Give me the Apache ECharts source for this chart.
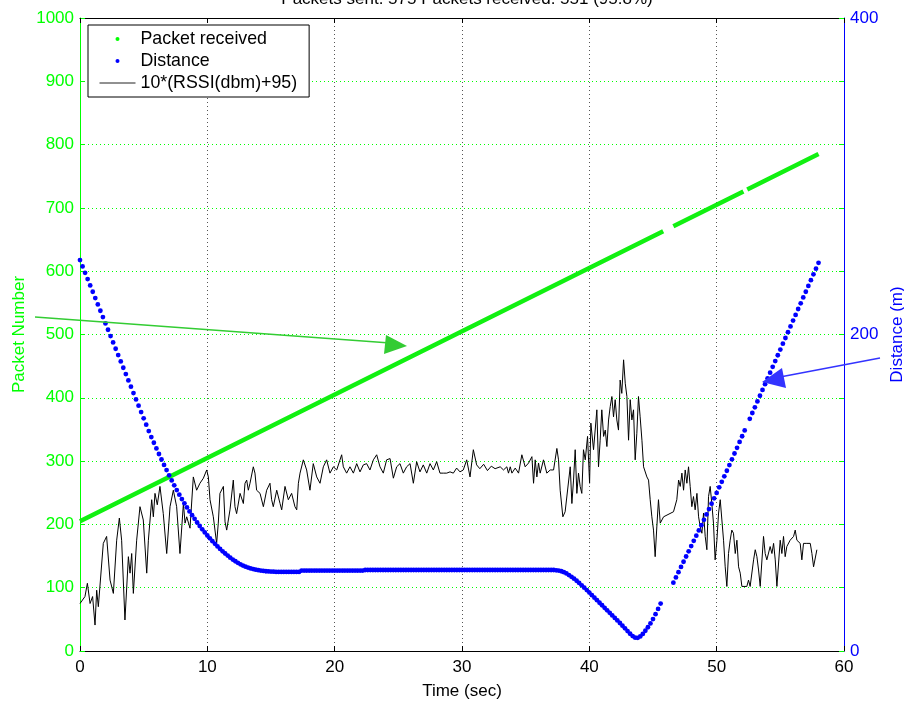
<!DOCTYPE html>
<html><head><meta charset="utf-8">
<script src="https://cdn.jsdelivr.net/npm/echarts@6/dist/echarts.min.js"></script>
<style>html,body{margin:0;padding:0;background:#fff}#c{width:904px;height:701px}</style>
</head><body><div id="c"></div>
<script>
// ---- data ----
var titleText = 'Packets sent: 575 Packets received: 551 (95.8%)';
var xTicks = [0, 10, 20, 30, 40, 50, 60];
var leftTicks = [0, 100, 200, 300, 400, 500, 600, 700, 800, 900, 1000];
var rightTicks = [0, 200, 400];

// Packet received: (time, packet number) break points of the received runs (null = missing packets)
var pktTime = [0, 45.8, null, 46.6, 52.1, null, 52.4, 58.0];
var pktNum  = [205, 663, null, 671, 726, null, 729, 785];

// Distance samples, every 0.2 s from t = 0
var distStart = 0, distStep = 0.2;
var distVal = [
 247,243,239,235,231,227,223,219,215,211,207,203,199,195,191,187,183,179,175,171,167,163,159,155,151,147,143,139,
 135.2,131.6,128,124.5,121,117.6,114.3,111,107.8,104.7,101.7,98.8,96,93.3,90.7,88.2,85.8,83.5,81.2,79,76.9,74.9,73,
 71.2,69.4,67.7,66.1,64.5,63,61.6,60.3,59,57.8,56.7,55.7,54.8,54,53.3,52.7,52.2,51.8,51.4,51.1,50.8,50.6,50.4,50.3,50.2,
 50.1,50,50,50,50,
 50,50,50,50,50,50,
 50.8,50.8,50.8,50.8,50.8,50.8,50.8,50.8,50.8,50.8,50.8,50.8,50.8,50.8,50.8,50.8,50.8,50.8,50.8,50.8,50.8,50.8,50.8,50.8,50.8,
 51.2,51.2,51.2,51.2,51.2,51.2,51.2,51.2,51.2,51.2,51.2,51.2,51.2,51.2,51.2,51.2,51.2,51.2,51.2,51.2,51.2,51.2,51.2,51.2,51.2,
 51.2,51.2,51.2,51.2,51.2,51.2,51.2,51.2,51.2,51.2,51.2,51.2,51.2,51.2,51.2,51.2,51.2,51.2,51.2,51.2,51.2,51.2,51.2,51.2,51.2,
 51.2,51.2,51.2,51.2,51.2,51.2,51.2,51.2,51.2,51.2,51.2,51.2,51.2,51.2,51.2,51.2,51.2,51.2,51.2,51.2,51.2,51.2,51.2,51.2,
 51.2,51.0,50.8,50.4,49.8,49.0,48.0,46.9,45.7,44.4,43.0,41.5,40.0,38.5,36.9,35.3,33.7,32.1,30.5,28.9,27.3,25.7,24.1,22.5,20.9,
 19.3,17.7,16.0,14.3,12.6,10.9,9.4,8.4,8.3,9.2,10.8,12.8,15.0,17.4,20.2,23.3,26.6,30.0,
 null,null,null,null,
 43.2,46.5,49.8,53.1,56.4,59.7,63.0,66.3,69.6,72.9,76.2,79.5,82.9,86.3,89.7,93.1,96.5,99.9,103.4,106.9,110.4,113.9,117.5,121.1,
 124.8,128.4,132.1,135.7,139.4,
 null,
 146.7,150.4,154.0,157.7,161.3,165.0,168.6,172.3,175.9,179.6,183.2,186.9,190.5,194.2,197.8,201.5,205.1,208.8,212.4,216.1,
 219.7,223.4,227.0,230.7,234.3,238.0,241.6,245.3
];

// 10*(RSSI+95) trace
var rssiT = [0,0.39,0.58,0.79,0.99,1.18,1.31,1.44,1.83,2.09,2.36,2.62,2.88,3.09,3.27,3.53,3.80,3.93,4.06,4.19,4.45,4.71,4.97,5.24,5.37,5.63,5.76,5.89,6.07,6.28,6.54,6.81,7.07,7.33,7.59,7.85,8.12,8.25,8.38,8.64,8.90,9.16,9.42,9.69,9.95,10.08,10.21,10.47,10.73,10.86,10.99,11.26,11.39,11.52,11.78,12.04,12.17,12.30,12.57,12.83,12.96,13.09,13.22,13.35,13.61,13.74,13.87,14.14,14.40,14.66,14.92,15.05,15.18,15.45,15.71,15.84,16.10,16.36,16.62,16.88,17.02,17.15,17.28,17.54,17.80,18.06,18.32,18.59,18.85,19.11,19.37,19.63,19.90,20.16,20.55,20.68,20.94,21.20,21.47,21.73,21.99,22.25,22.51,22.77,23.04,23.30,23.56,23.82,24.08,24.35,24.61,24.87,25.13,25.39,25.65,25.92,26.18,26.44,26.70,26.96,27.23,27.49,27.75,28.01,28.27,28.53,28.80,29.06,29.32,29.58,29.84,30.10,30.37,30.63,30.89,31.15,31.4,31.7,32.0,32.3,32.6,33.0,33.26,33.52,33.65,33.79,33.92,34.18,34.44,34.70,34.96,35.23,35.49,35.62,35.75,35.88,36.01,36.14,36.40,36.66,36.93,37.19,37.45,37.58,37.71,37.92,38.10,38.24,38.50,38.63,38.76,38.89,39.02,39.15,39.28,39.41,39.54,39.68,39.86,40.02,40.12,40.33,40.59,40.72,40.85,40.98,41.12,41.25,41.38,41.51,41.64,41.77,41.90,42.03,42.16,42.29,42.42,42.55,42.69,42.82,42.95,43.08,43.21,43.34,43.47,43.60,43.73,43.86,43.99,44.13,44.26,44.52,44.65,44.78,44.91,45.04,45.17,45.30,45.43,45.57,45.83,46.61,46.87,47.01,47.14,47.27,47.40,47.53,47.66,47.79,47.92,48.05,48.18,48.31,48.45,48.58,48.71,48.84,48.97,49.10,49.23,49.36,49.49,49.62,49.75,49.88,50.02,50.15,50.28,50.41,50.54,50.67,50.80,50.93,51.06,51.19,51.32,51.46,51.59,51.72,51.85,51.98,52.37,52.50,52.63,52.90,53.03,53.16,53.29,53.42,53.68,53.81,53.94,54.20,54.34,54.47,54.60,54.73,54.99,55.12,55.25,55.38,55.51,55.77,56.04,56.17,56.30,56.56,56.69,56.82,57.08,57.35,57.48,57.61,57.74,57.87];
var rssiV = [75,86,107,75,86,41,96,70,170,181,112,91,175,210,175,49,149,123,154,91,175,228,207,123,175,239,212,249,231,260,217,154,228,254,228,154,233,202,212,194,275,254,265,273,286,275,239,212,170,202,249,260,204,191,223,270,228,217,249,233,265,270,254,265,291,281,254,249,228,254,265,239,228,254,233,223,260,239,249,228,223,265,281,302,286,254,296,275,265,291,302,281,291,286,310,291,281,291,281,296,283,294,296,286,302,310,291,281,302,304,273,291,296,281,291,296,265,299,283,294,281,296,286,299,281,281,281,283,281,289,283,286,302,275,318,294,288,295,285,292,288,291,286,291,281,291,281,289,281,310,291,297,307,265,302,275,297,281,302,281,286,286,320,302,254,212,220,223,291,233,270,318,249,281,260,249,318,302,339,265,360,318,381,291,333,381,339,349,323,365,386,402,370,397,365,349,428,407,460,423,402,333,397,365,381,302,344,402,370,333,291,275,270,239,212,191,149,196,239,202,212,220,239,270,260,281,254,286,265,291,260,228,244,223,249,212,196,186,218,181,160,244,260,233,202,144,175,218,239,207,175,133,102,154,175,191,186,154,175,133,123,102,102,112,102,144,160,149,128,102,181,154,144,165,154,170,144,102,175,154,181,149,165,175,181,191,175,170,144,170,170,170,154,133,133,160];

// ---- build series data from the arrays ----
function pairs(xs, ys) {
  var out = [];
  for (var i = 0; i < xs.length; i++) out.push(xs[i] === null || ys[i] === null ? null : [xs[i], ys[i]]);
  return out;
}
var distData = [];
for (var i = 0; i < distVal.length; i++) {
  if (distVal[i] !== null) distData.push([+(distStart + i * distStep).toFixed(2), distVal[i]]);
}

var FONT = 'Liberation Sans, Arial, Helvetica, sans-serif';
var GREEN = '#00ff00', BLUE = '#0000ff';
var FS = 17;

var chart = echarts.init(document.getElementById('c'), null, {renderer: 'canvas'});
chart.setOption({
  backgroundColor: '#ffffff',
  animation: false,
  title: {
    text: titleText, left: 462, top: -14, textAlign: 'center',
    textStyle: {fontFamily: FONT, fontSize: FS, fontWeight: 'normal', color: '#000'}
  },
  grid: {left: 80, right: 60, top: 18, bottom: 50, containLabel: false, outerBoundsMode: 'none'},
  legend: {
    left: 88, top: 25, orient: 'vertical', selectedMode: false,
    backgroundColor: '#ffffff', borderColor: '#000', borderWidth: 1,
    padding: [4, 12, 4, 11], itemGap: 2, itemWidth: 36, itemHeight: 4,
    textStyle: {fontFamily: FONT, fontSize: 17.8, lineHeight: 20, color: '#000'},
    data: [
      {name: 'Packet received', icon: 'circle', itemStyle: {color: GREEN, borderWidth: 0}},
      {name: 'Distance', icon: 'circle', itemStyle: {color: BLUE, borderWidth: 0}},
      {name: '10*(RSSI(dbm)+95)', itemStyle: {opacity: 0}, lineStyle: {color: '#222', width: 1}}
    ]
  },
  xAxis: [{
    type: 'value', min: 0, max: 60, interval: 10, position: 'bottom',
    name: 'Time (sec)', nameLocation: 'middle', nameGap: 32,
    nameTextStyle: {fontFamily: FONT, fontSize: FS, color: '#000'},
    axisLine: {onZero: false, lineStyle: {color: '#000', width: 1}},
    axisTick: {inside: true, length: 5, lineStyle: {color: '#000'}},
    axisLabel: {fontFamily: FONT, fontSize: FS, color: '#000', margin: 8,
      formatter: function (v) { return xTicks.indexOf(v) >= 0 ? String(v) : ''; }},
    splitLine: {show: true, lineStyle: {color: '#555', type: [1, 3], width: 1}}
  }, {
    type: 'value', min: 0, max: 60, interval: 10, position: 'top',
    axisLine: {onZero: false, lineStyle: {color: '#000', width: 1}},
    axisTick: {inside: true, length: 5, lineStyle: {color: '#000'}},
    axisLabel: {show: false}, splitLine: {show: false}
  }],
  yAxis: [{
    type: 'value', min: 0, max: 1000, interval: 100, position: 'left',
    name: 'Packet Number', nameLocation: 'middle', nameGap: 52, nameRotate: 90, nameMoveOverlap: false,
    nameTextStyle: {fontFamily: FONT, fontSize: FS, color: GREEN},
    axisLine: {show: true, onZero: false, lineStyle: {color: GREEN, width: 1}},
    axisTick: {show: true, inside: true, length: 5, lineStyle: {color: GREEN}},
    axisLabel: {fontFamily: FONT, fontSize: FS, color: GREEN, margin: 6,
      formatter: function (v) { return leftTicks.indexOf(v) >= 0 ? String(v) : ''; }},
    splitLine: {show: true, lineStyle: {color: GREEN, type: [1, 3], width: 1}}
  }, {
    type: 'value', min: 0, max: 400, interval: 200, position: 'right',
    name: 'Distance (m)', nameLocation: 'middle', nameGap: 42, nameRotate: 90,
    nameTextStyle: {fontFamily: FONT, fontSize: FS, color: BLUE},
    axisLine: {show: true, onZero: false, lineStyle: {color: BLUE, width: 1}},
    axisTick: {show: true, inside: true, length: 5, lineStyle: {color: BLUE}},
    axisLabel: {fontFamily: FONT, fontSize: FS, color: BLUE, margin: 6,
      formatter: function (v) { return rightTicks.indexOf(v) >= 0 ? String(v) : ''; }},
    splitLine: {show: false}
  }, {
    type: 'value', min: 0, max: 1000, interval: 100, position: 'right',
    axisLine: {show: false, onZero: false},
    axisTick: {show: true, inside: true, length: 5, lineStyle: {color: GREEN}},
    axisLabel: {show: false}, splitLine: {show: false}
  }],
  series: [{
    name: 'Packet received', type: 'line', xAxisIndex: 0, yAxisIndex: 0,
    data: pairs(pktTime, pktNum), showSymbol: false, symbol: 'none', connectNulls: false,
    lineStyle: {color: '#11f011', width: 4.5}, itemStyle: {color: GREEN}, z: 3
  }, {
    name: 'Distance', type: 'scatter', xAxisIndex: 0, yAxisIndex: 1,
    data: distData, symbol: 'circle', symbolSize: 4.8,
    itemStyle: {color: BLUE, opacity: 1}, z: 4
  }, {
    name: '10*(RSSI(dbm)+95)', type: 'line', xAxisIndex: 0, yAxisIndex: 0,
    data: pairs(rssiT, rssiV), showSymbol: false, symbol: 'none',
    lineStyle: {color: '#000', width: 1}, itemStyle: {color: '#000'}, z: 2
  }],
  graphic: [
    {type: 'line', shape: {x1: 35, y1: 317, x2: 390, y2: 343}, style: {stroke: '#33cc33', lineWidth: 1.5}, z: 10},
    {type: 'polygon', shape: {points: [[407, 346], [386, 335], [384, 354]]}, style: {fill: '#33cc33'}, z: 10},
    {type: 'line', shape: {x1: 880, y1: 358, x2: 780, y2: 377}, style: {stroke: '#3333ff', lineWidth: 1.5}, z: 10},
    {type: 'polygon', shape: {points: [[762, 382], [782, 368], [786, 388]]}, style: {fill: '#3333ff'}, z: 10}
  ]
});
</script></body></html>
